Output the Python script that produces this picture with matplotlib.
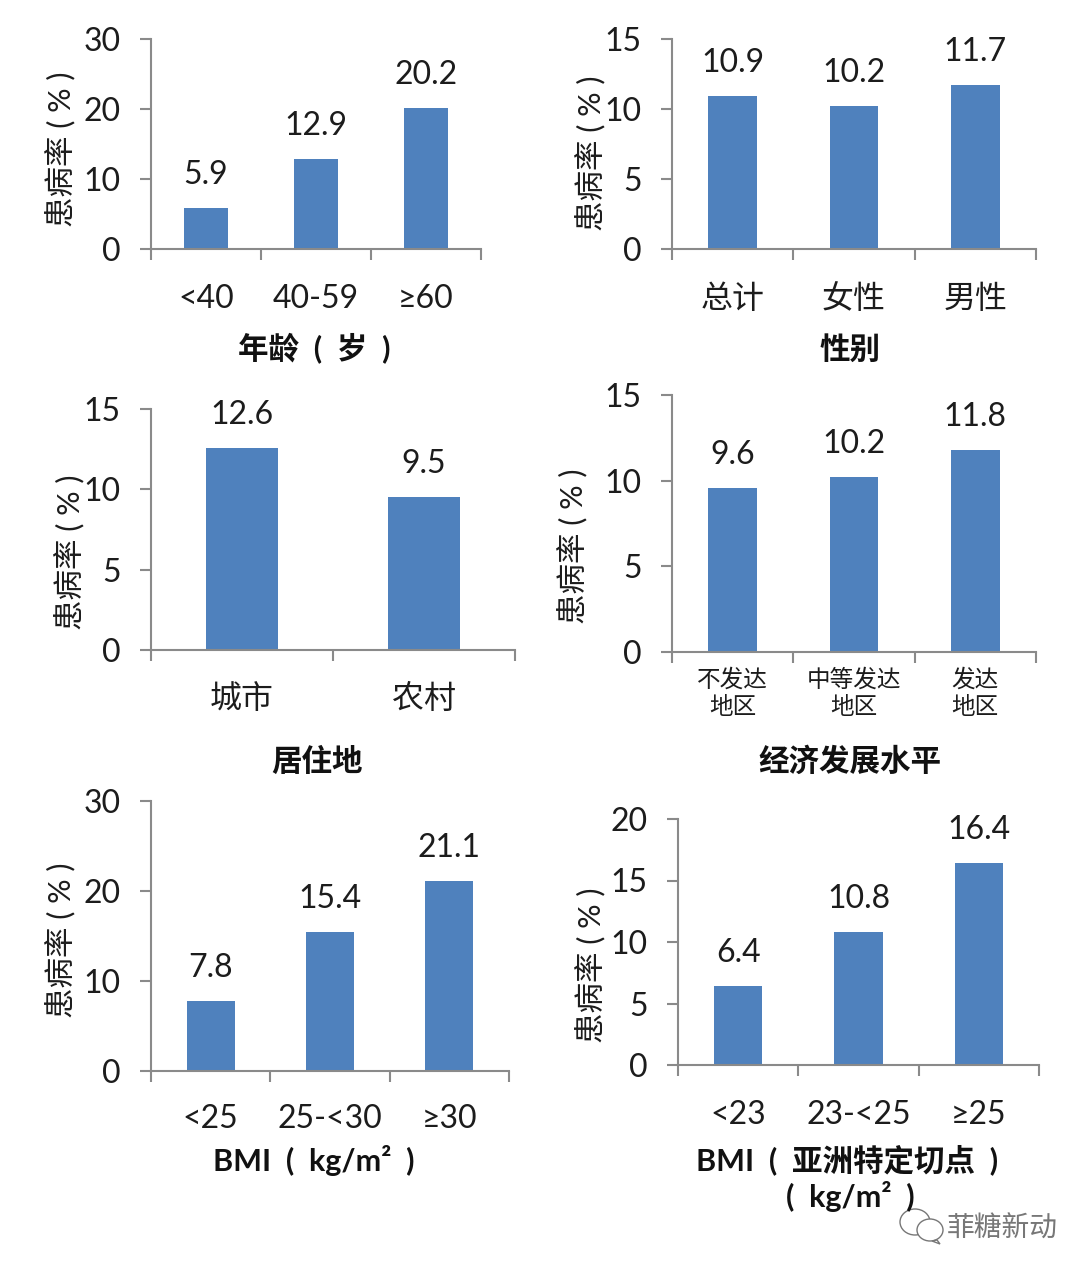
import matplotlib
matplotlib.use("Agg")
import matplotlib.pyplot as plt
from matplotlib.patches import Ellipse, Polygon

plt.rcParams['font.family'] = ['Lato', 'Noto Sans CJK SC', 'DejaVu Sans']

W, H = 1092, 1276

# values
age_labels = ['<40', '40-59', '≥60']
age_values = [5.9, 12.9, 20.2]
sex_labels = ['总计', '女性', '男性']
sex_values = [10.9, 10.2, 11.7]
area_labels = ['城市', '农村']
area_values = [12.6, 9.5]
econ_labels = ['不发达\n地区', '中等发达\n地区', '发达\n地区']
econ_values = [9.6, 10.2, 11.8]
bmi_labels = ['<25', '25-<30', '≥30']
bmi_values = [7.8, 15.4, 21.1]
asia_labels = ['<23', '23-<25', '≥25']
asia_values = [6.4, 10.8, 16.4]

BLUE = '#4f81bd'
DARK = '#1c1c1c'
GREY = '#8a8a8a'

fig = plt.figure(figsize=(W / 100, H / 100), dpi=100, facecolor='white')


def panel(x0, x1, ytop, ybot, labels, values, ymax, step, ylab_x, ylab_y, lab_y, lab_size=23):
    ax = fig.add_axes([x0 / W, 1 - ybot / H, (x1 - x0) / W, (ybot - ytop) / H])
    xs = list(range(len(values)))
    ax.bar(xs, values, width=0.4, color=BLUE)
    ax.set_xlim(-0.5, len(values) - 0.5)
    ax.set_ylim(0, ymax)
    ax.set_yticks(range(0, ymax + 1, step))
    ax.set_xticks([i - 0.5 for i in range(len(values) + 1)])
    ax.set_xticklabels([])
    ax.spines['top'].set_visible(False)
    ax.spines['right'].set_visible(False)
    for s in ('left', 'bottom'):
        ax.spines[s].set_color(GREY)
        ax.spines[s].set_linewidth(1.5)
    ax.tick_params(axis='y', labelsize=23, length=8, width=1.5, color=GREY,
                   labelcolor=DARK, pad=14)
    ax.tick_params(axis='x', length=8, width=1.5, color=GREY)
    for x, v in zip(xs, values):
        ax.annotate(f'{v:.1f}', (x, v), xytext=(0, 18), textcoords='offset pixels',
                    ha='center', va='bottom', fontsize=23, color=DARK)
        fig.text((x0 + (x + 0.5) * (x1 - x0) / len(values)) / W, 1 - lab_y / H, labels[x],
                 ha='center', va='center', fontsize=lab_size, color=DARK, linespacing=1.25)
    fig.text(ylab_x / W, 1 - ylab_y / H, '患病率 ( % )', rotation=90,
             ha='center', va='center', fontsize=22, color=DARK)
    return ax


panel(151, 481, 39, 249, age_labels, age_values, 30, 10, 60, 149, 299)
panel(672, 1036, 39, 249, sex_labels, sex_values, 15, 5, 590, 153, 299)
panel(151, 515, 409, 650, area_labels, area_values, 15, 5, 69, 552, 699)
panel(672, 1036, 395, 652, econ_labels, econ_values, 15, 5, 572, 546, 693, lab_size=17)
panel(151, 509, 801, 1071, bmi_labels, bmi_values, 30, 10, 60, 940, 1119)
panel(678, 1039, 819, 1065, asia_labels, asia_values, 20, 5, 590, 965, 1115)

titles = [
    (314, 349, '年龄  (  岁  )'),
    (850, 349, '性别'),
    (317, 761, '居住地'),
    (850, 761, '经济发展水平'),
    (314, 1160, 'BMI  (  kg/m²  )'),
    (847, 1160, 'BMI  (  亚洲特定切点  )'),
    (850, 1196, '(  kg/m²  )'),
]
for x, y, t in titles:
    fig.text(x / W, 1 - y / H, t, ha='center', va='center', fontsize=22,
             fontweight='bold', color='#111111')

# watermark
overlay = fig.add_axes([0, 0, 1, 1], facecolor='none')
overlay.set_xlim(0, W)
overlay.set_ylim(H, 0)
overlay.axis('off')
overlay.add_patch(Ellipse((915, 1222), 30, 26, fill=False, ec='#777777', lw=1))
overlay.add_patch(Ellipse((930, 1230), 26, 22, fc='white', ec='#777777', lw=1))
overlay.add_patch(Polygon([(937, 1240), (940, 1244), (932, 1241)], closed=True, fc='white', ec='#777777', lw=1))
overlay.text(1002, 1229, '菲糖新动', ha='center', va='center', fontsize=20, color='#777777')

fig.savefig('out.png', dpi=100)
